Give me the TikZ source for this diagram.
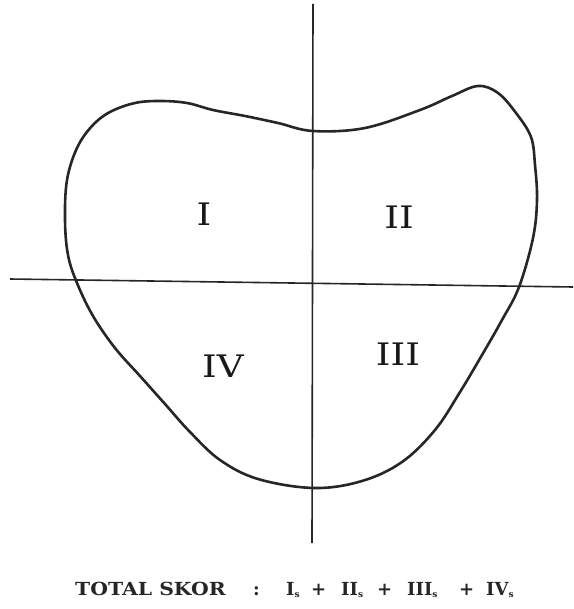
\documentclass[tikz,border=0pt]{standalone}
\usepackage{fontspec}
\setmainfont{DejaVu Serif}
\newcommand{\subs}{\lower0.3ex\hbox{\fontsize{9}{9}\selectfont s}}
\begin{document}
\begin{tikzpicture}[x=1pt,y=-1pt,
  axis/.style={line width=1.6pt, draw=black!85},
  outline/.style={line width=2.6pt, draw=black!85, line join=round},
  quad/.style={font=\fontsize{31}{31}\selectfont, text=black!90, inner sep=0pt, xscale=1.2},
  total/.style={font=\bfseries\fontsize{18}{18}\selectfont, text=black!85, inner sep=0pt, anchor=base west}]
\useasboundingbox (0,0) rectangle (573,609);
\coordinate (vtop) at (313,4);
\coordinate (vbot) at (312,543);
\coordinate (hl) at (10,279);
\coordinate (hr) at (573,287);
\draw[axis] (vtop) -- (vbot);
\draw[axis] (hl) -- (hr);
\draw[outline] plot[smooth cycle, tension=0.6] coordinates {
  (313,131) (365,128) (420,110) (452,96) (478,86) (498,93) (516,113)
  (531,137) (535,165) (537,200) (533,238) (519,287) (502,320) (482,355)
  (460,392) (435,430) (402,462) (362,481) (314,488) (258,479) (220,460)
  (190,432) (165,404) (140,376) (115,348) (93,316) (77,283) (68,255)
  (65,220) (67,180) (77,148) (92,126) (110,112) (135,103) (160,101)
  (187,103) (213,110) (245,116) (278,123)};
\node[quad] (q1) at (204,214) {I};
\node[quad] (q2) at (399,217) {II};
\node[quad] (q3) at (398,354) {III};
\node[quad] (q4) at (223,366) {IV};
\node[total, xscale=1.13] (t1) at (75,595) {TOTAL SKOR};
\node[total] (t2) at (253,595) {:};
\node[total] (t3) at (286,595) {I\subs};
\node[total] (t4) at (311,595) {+};
\node[total] (t5) at (341,595) {II\subs};
\node[total] (t6) at (377,595) {+};
\node[total] (t7) at (407,595) {III\subs};
\node[total] (t8) at (459,595) {+};
\node[total] (t9) at (486,595) {IV\subs};
\end{tikzpicture}
\end{document}
